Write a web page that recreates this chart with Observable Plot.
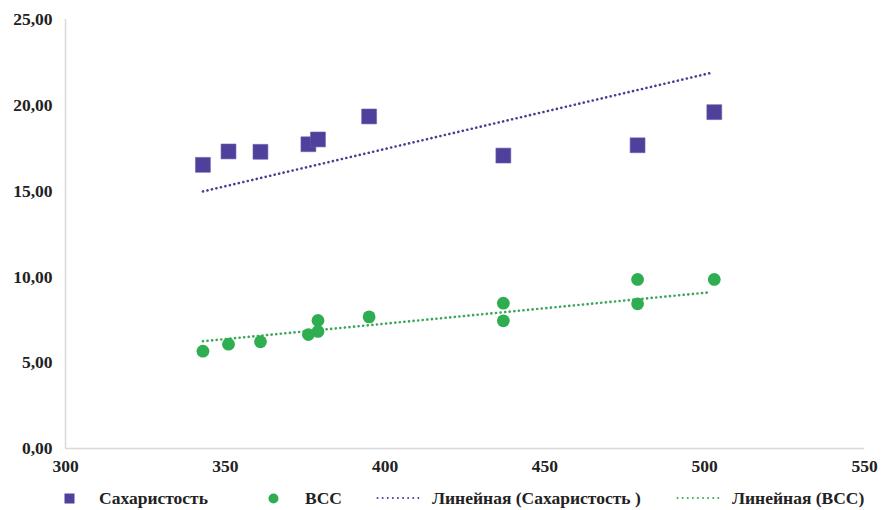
<!DOCTYPE html>
<html>
<head>
<meta charset="utf-8">
<script src="https://cdn.jsdelivr.net/npm/d3@7"></script>
<script src="https://cdn.jsdelivr.net/npm/@observablehq/plot@0.6"></script>
<style>
  body { margin: 0; background: #fff; }
  #wrap { position: relative; width: 894px; height: 510px; font-family: "Liberation Serif", "DejaVu Serif", serif; }
  #legend { position: absolute; left: 0; top: 485px; width: 894px; height: 26px; font-weight: bold; font-size: 17.5px; color: #222; }
  #legend .el { position: absolute; top: 0; height: 26px; display: flex; align-items: center; white-space: nowrap; }
  #legend svg { display: block; }
</style>
</head>
<body>
<div id="wrap">
  <div id="chart"></div>
  <div id="legend"></div>
</div>
<script>
// Data
const sugarX = [343, 351, 361, 376, 379, 395, 437, 479, 503];
const sugarY = [16.53, 17.31, 17.29, 17.73, 18.01, 19.35, 17.07, 17.67, 19.60];

const bccX = [343, 351, 361, 376, 379, 379, 395, 437, 437, 479, 479, 503];
const bccY = [5.67, 6.08, 6.22, 6.64, 6.82, 7.46, 7.67, 8.47, 7.44, 9.85, 8.43, 9.85];

// Linear trend lines (endpoints as drawn in the reference)
const trendX = [343, 502];
const sugarTrendY = [14.98, 21.89];
const bccTrendY = [6.25, 9.11];

const xTicks = [300, 350, 400, 450, 500, 550];
const yTicks = [0, 5, 10, 15, 20, 25];

const seriesNames = ["Сахаристость", "ВСС", "Линейная (Сахаристость )", "Линейная (ВСС)"];
const colors = { sugar: "#4f409c", bcc: "#2eae50", sugarTrend: "#4a3d92", bccTrend: "#3aa85a" };

const sugar = sugarX.map((x, i) => ({ x, y: sugarY[i] }));
const bcc = bccX.map((x, i) => ({ x, y: bccY[i] }));
const sugarTrend = trendX.map((x, i) => ({ x, y: sugarTrendY[i] }));
const bccTrend = trendX.map((x, i) => ({ x, y: bccTrendY[i] }));

const fmt = d => d.toFixed(2).replace(".", ",");

const chart = Plot.plot({
  width: 894,
  height: 480,
  marginTop: 19,
  marginBottom: 32,
  marginLeft: 65,
  marginRight: 30,
  style: { fontFamily: "'Liberation Serif', serif", fontSize: "17.5px", fontWeight: "bold", color: "#222", background: "#fff" },
  x: { domain: [300, 550], ticks: xTicks, tickSize: 0, tickPadding: 11, tickFormat: d => String(d), label: null },
  y: { domain: [0, 25], ticks: yTicks, tickSize: 0, tickPadding: 13, tickFormat: fmt, label: null },
  marks: [
    Plot.ruleX([300], { stroke: "#d9d9d9", strokeWidth: 1.5 }),
    Plot.ruleY([0], { stroke: "#d9d9d9", strokeWidth: 1.5 }),
    Plot.line(sugarTrend, { x: "x", y: "y", stroke: colors.sugarTrend, strokeWidth: 2.6, strokeLinecap: "round", strokeDasharray: "0.1,4.5" }),
    Plot.line(bccTrend, { x: "x", y: "y", stroke: colors.bccTrend, strokeWidth: 2.6, strokeLinecap: "round", strokeDasharray: "0.1,4.5" }),
    Plot.dot(sugar, { x: "x", y: "y", symbol: "square", r: 8.4, fill: colors.sugar, stroke: "#6a5cb0", strokeWidth: 0.6 }),
    Plot.dot(bcc, { x: "x", y: "y", symbol: "circle", r: 6.4, fill: colors.bcc, stroke: "none" })
  ]
});
document.getElementById("chart").appendChild(chart);

// Legend
const legend = document.getElementById("legend");
const dotted = c => `<svg width="48" height="6"><line x1="1.5" y1="3" x2="46.5" y2="3" stroke="${c}" stroke-width="1.9" stroke-linecap="round" stroke-dasharray="0.1,5"/></svg>`;
const pieces = [
  { left: 64, html: `<svg width="11" height="11"><rect x="0.5" y="0.5" width="10" height="10" fill="${colors.sugar}"/></svg>` },
  { left: 99, html: seriesNames[0] },
  { left: 268, html: `<svg width="11" height="11"><circle cx="5.5" cy="5.5" r="5" fill="${colors.bcc}"/></svg>` },
  { left: 305, html: seriesNames[1] },
  { left: 376, html: dotted(colors.sugarTrend) },
  { left: 432, html: seriesNames[2] },
  { left: 676, html: dotted(colors.bccTrend) },
  { left: 732, html: seriesNames[3] }
];
for (const p of pieces) {
  const d = document.createElement("div");
  d.className = "el";
  d.style.left = p.left + "px";
  d.innerHTML = p.html;
  legend.appendChild(d);
}
</script>
</body>
</html>
